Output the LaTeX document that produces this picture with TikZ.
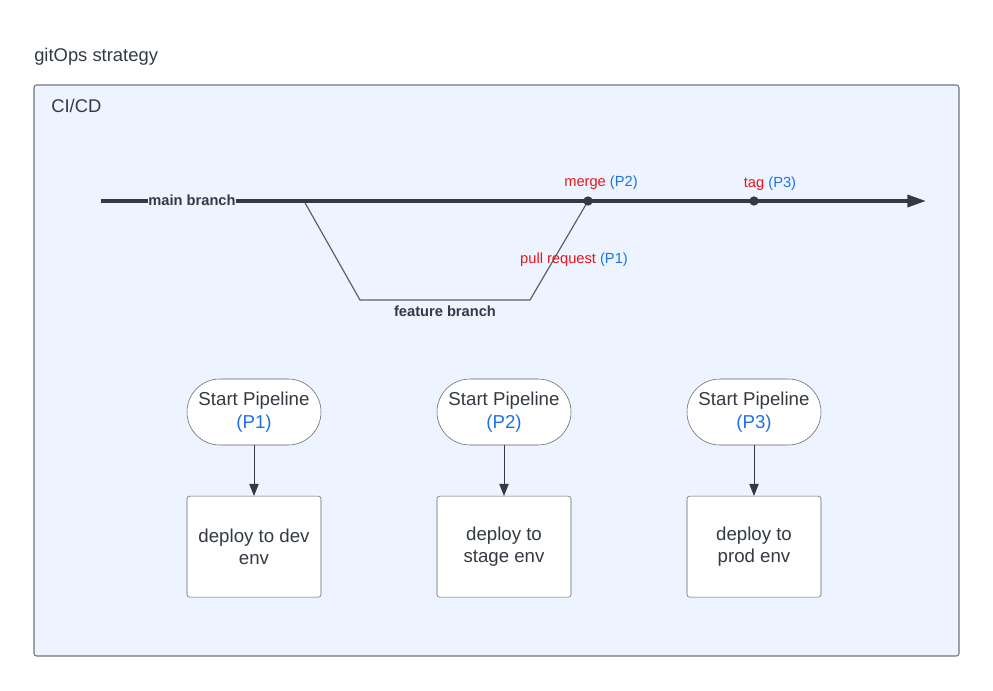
\documentclass[tikz,border=0pt]{standalone}
\usepackage{fontspec}
\setmainfont{Liberation Sans}
\usepackage{xcolor}
\usepackage{tikz}
\usetikzlibrary{arrows.meta,positioning}
\definecolor{OpsBg}{HTML}{EDF4FF}
\definecolor{OpsEdge}{HTML}{6F7680}
\definecolor{OpsDark}{HTML}{333A42}
\definecolor{OpsRed}{HTML}{E8161C}
\definecolor{OpsBlue}{HTML}{1C72E6}
\tikzset{
  startpill/.style={draw=OpsDark!80,fill=white,rounded corners=24.7pt,align=center,minimum width=100.5pt,minimum height=49.5pt,inner sep=2pt,font=\fontsize{14}{17}\selectfont,text=OpsDark},
  stagebox/.style={draw=OpsDark!80,fill=white,rounded corners=2pt,align=center,minimum width=100.5pt,minimum height=75.75pt,inner sep=2pt,font=\fontsize{14}{17}\selectfont,text=OpsDark},
  trunkline/.style={-{Triangle[length=14pt,width=9pt]},line width=2.6pt,draw=OpsDark},
  featline/.style={line width=0.9pt,draw=OpsDark!80},
  steparrow/.style={-{Triangle[length=9pt,width=7pt]},line width=0.7pt,draw=OpsDark},
  gitlabel/.style={font=\fontsize{11}{13}\selectfont,inner sep=1pt},
  commitdot/.style={circle,fill=OpsDark,inner sep=0pt,minimum size=7pt}
}

\begin{document}
\begin{tikzpicture}[x=0.75pt,y=-0.75pt,node distance=38pt]
\useasboundingbox (0,0) rectangle (993,690);
% frame
\node[anchor=west,inner sep=0pt,font=\fontsize{13.8}{16}\selectfont,text=OpsDark] (title) at (34,57) {gitOps strategy};
\draw[draw=OpsEdge,fill=OpsBg,line width=0.8pt,rounded corners=2pt] (34,85) rectangle (959,656);
\node[anchor=west,inner sep=0pt,font=\fontsize{13.8}{16}\selectfont,text=OpsDark] (cicd) at (51,106) {CI/CD};

% branches
\coordinate (mstart) at (101,201);
\coordinate (mend) at (926,201);
\coordinate (fork) at (304,201);
\coordinate (fbl) at (360,300);
\coordinate (fbr) at (530,300);
\draw[featline] (fork) -- (fbl) -- (fbr) -- (588,201);
\draw[trunkline] (mstart) -- (mend);
\node[commitdot] (merge) at (588,201) {};
\node[commitdot] (tag) at (754,201) {};
\node[gitlabel,font=\fontsize{11}{13}\selectfont\bfseries,fill=OpsBg,inner sep=0.5pt,text=OpsDark] (mainlbl) at (192,200) {main branch};
\node[gitlabel,font=\fontsize{11}{13}\selectfont\bfseries,text=OpsDark] (featlbl) at (445,311) {feature branch};
\node[gitlabel] (mergelbl) at (601,183) {\textcolor{OpsRed}{merge} \textcolor{OpsBlue}{(P2)}};
\node[gitlabel] (taglbl) at (770,184) {\textcolor{OpsRed}{tag} \textcolor{OpsBlue}{(P3)}};
\node[gitlabel] (prlbl) at (574,260) {\textcolor{OpsRed}{pull request} \textcolor{OpsBlue}{(P1)}};

% pipelines
\node[startpill] (start1) at (254,412) {Start Pipeline\\\textcolor{OpsBlue}{(P1)}};
\node[startpill] (start2) at (504,412) {Start Pipeline\\\textcolor{OpsBlue}{(P2)}};
\node[startpill] (start3) at (754,412) {Start Pipeline\\\textcolor{OpsBlue}{(P3)}};
\node[stagebox,below=of start1] (deploy1) {deploy to dev\\env};
\node[stagebox,below=of start2] (deploy2) {deploy to\\stage env};
\node[stagebox,below=of start3] (deploy3) {deploy to\\prod env};
\draw[steparrow] (start1) -- (deploy1);
\draw[steparrow] (start2) -- (deploy2);
\draw[steparrow] (start3) -- (deploy3);
\end{tikzpicture}
\end{document}
